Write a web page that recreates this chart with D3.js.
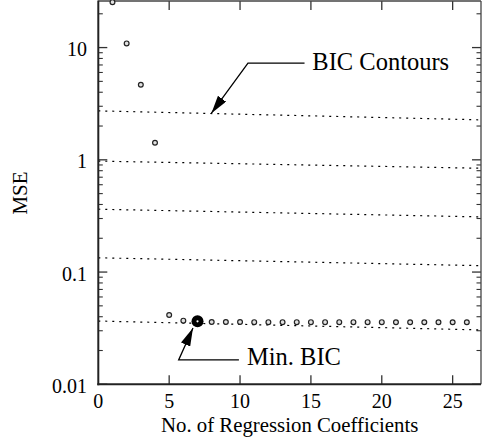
<!DOCTYPE html>
<html><head><meta charset="utf-8">
<script src="https://cdn.jsdelivr.net/npm/d3@7"></script>
<style>
html,body{margin:0;padding:0;background:#fff;}
</style></head>
<body><svg id="c" width="482" height="442"></svg>
<script>
// Data
const coefficients = [1,2,3,4,5,6,7,8,9,10,11,12,13,14,15,16,17,18,19,20,21,22,23,24,25,26];
const mseValues = [25.4,10.9,4.66,1.42,0.0415,0.0369,0.0364,0.0359,0.0359,0.0359,0.0358,0.0358,0.0358,0.0358,0.0358,0.0358,0.0358,0.0358,0.0358,0.0358,0.0357,0.0357,0.0357,0.0357,0.0357,0.0357];
const minBicK = 7;
const contourStart = [2.73, 0.974, 0.363, 0.134, 0.0366];  // MSE at k = 0
const contourEnd   = [2.27, 0.841, 0.31, 0.114, 0.0305];   // MSE at k = 27
const xTicks = [0,5,10,15,20,25];
const yTicks = [0.01,0.1,1,10];
const yTickLabels = ["0.01","0.1","1","10"];
const annotations = [
  {text:"BIC Contours", tip:[7.98,2.60], elbow:[10.56,7.26], end:[14.55,7.26], label:[15.1,6.3]},
  {text:"Min. BIC", tip:[6.68,0.0317], elbow:[5.67,0.0165], end:[9.92,0.0165], label:[10.49,0.0149]}
];

const FONT = "'Liberation Serif', 'DejaVu Serif', 'Times New Roman', serif";
const svg = d3.select("#c").attr("font-family", FONT);
const L=98.3, R=481, T=1, B=384.3;
const x = d3.scaleLinear().domain([0,27]).range([L,R]);
const y = d3.scaleLog().domain([0.01,26]).range([B,T]);

const defs = svg.append("defs");
defs.append("marker").attr("id","ah").attr("viewBox","0 0 18 10").attr("refX",18).attr("refY",5)
  .attr("markerWidth",18).attr("markerHeight",10).attr("markerUnits","userSpaceOnUse").attr("orient","auto")
  .append("path").attr("d","M0,0 L18,5 L0,10 Z").attr("fill","#000");

// minor ticks (log)
const minor = [];
for (let d=0.01; d<=10; d*=10) for (let m=2;m<=9;m++){ const v=+(d*m).toPrecision(3); if (v<=26) minor.push(v); }
const tickCol="#333";
[[L,1],[R,-1]].forEach(([x0,dir])=>{
  svg.selectAll(null).data(yTicks).enter().append("line")
    .attr("x1",x0).attr("x2",x0+dir*9).attr("y1",d=>y(d)).attr("y2",d=>y(d))
    .attr("stroke",tickCol).attr("stroke-width",1.3);
  svg.selectAll(null).data(minor).enter().append("line")
    .attr("x1",x0).attr("x2",x0+dir*4.5).attr("y1",d=>y(d)).attr("y2",d=>y(d))
    .attr("stroke",tickCol).attr("stroke-width",1.1);
});
[[B,-1],[T,1]].forEach(([y0,dir])=>{
  svg.selectAll(null).data(xTicks.filter(d=>d>0)).enter().append("line")
    .attr("x1",d=>x(d)).attr("x2",d=>x(d)).attr("y1",y0).attr("y2",y0+dir*9)
    .attr("stroke",tickCol).attr("stroke-width",1.3);
});

// contours
svg.selectAll(null).data(contourStart).enter().append("line")
  .attr("x1",x(0)).attr("x2",x(27)).attr("y1",d=>y(d)).attr("y2",(d,i)=>y(contourEnd[i]))
  .attr("stroke","#000").attr("stroke-width",1.2).attr("stroke-dasharray","2,5");

// frame
svg.append("line").attr("x1",L).attr("x2",R).attr("y1",T).attr("y2",T).attr("stroke","#444").attr("stroke-width",1.3);
svg.append("line").attr("x1",R).attr("x2",R).attr("y1",T).attr("y2",B).attr("stroke","#444").attr("stroke-width",1.3);
svg.append("line").attr("x1",L).attr("x2",L).attr("y1",T-0.6).attr("y2",B+1).attr("stroke","#222").attr("stroke-width",2);
svg.append("line").attr("x1",L-1).attr("x2",R).attr("y1",B).attr("y2",B).attr("stroke","#222").attr("stroke-width",2);

// points
const pts = coefficients.map((k,i)=>({k, v:mseValues[i]}));
svg.selectAll(null).data(pts.filter(p=>p.k!==minBicK)).enter().append("circle")
  .attr("cx",d=>x(d.k)).attr("cy",d=>y(d.v)).attr("r",2.4)
  .attr("fill","#e0e0e0").attr("stroke","#222").attr("stroke-width",1.2);
const mp = pts.find(p=>p.k===minBicK);
svg.append("circle").attr("cx",x(mp.k)).attr("cy",y(mp.v)).attr("r",6).attr("fill","#000");
svg.append("circle").attr("cx",x(mp.k)).attr("cy",y(mp.v)).attr("r",1.1).attr("fill","#fff");

// annotations
annotations.forEach(a=>{
  svg.append("polyline")
    .attr("points",[a.end,a.elbow,a.tip].map(p=>x(p[0])+","+y(p[1])).join(" "))
    .attr("fill","none").attr("stroke","#000").attr("stroke-width",1.3).attr("marker-end","url(#ah)");
  svg.append("text").attr("x",x(a.label[0])).attr("y",y(a.label[1]))
    .attr("font-size",24.5).attr("fill","#000").text(a.text);
});

// tick labels
svg.selectAll(null).data(xTicks).enter().append("text")
  .attr("x",d=>x(d)).attr("y",B+24).attr("text-anchor","middle").attr("font-size",20).text(d=>d);
svg.selectAll(null).data(yTicks).enter().append("text")
  .attr("x",87).attr("y",d=>y(d)+8.5).attr("text-anchor","end").attr("font-size",20).text((d,i)=>yTickLabels[i]);

// axis titles
svg.append("text").attr("x",(L+R)/2).attr("y",432).attr("text-anchor","middle").attr("font-size",20.8)
  .text("No. of Regression Coefficients");
svg.append("text").attr("transform","translate(26.5,193) rotate(-90)").attr("text-anchor","middle")
  .attr("font-size",21).text("MSE");
</script></body></html>
